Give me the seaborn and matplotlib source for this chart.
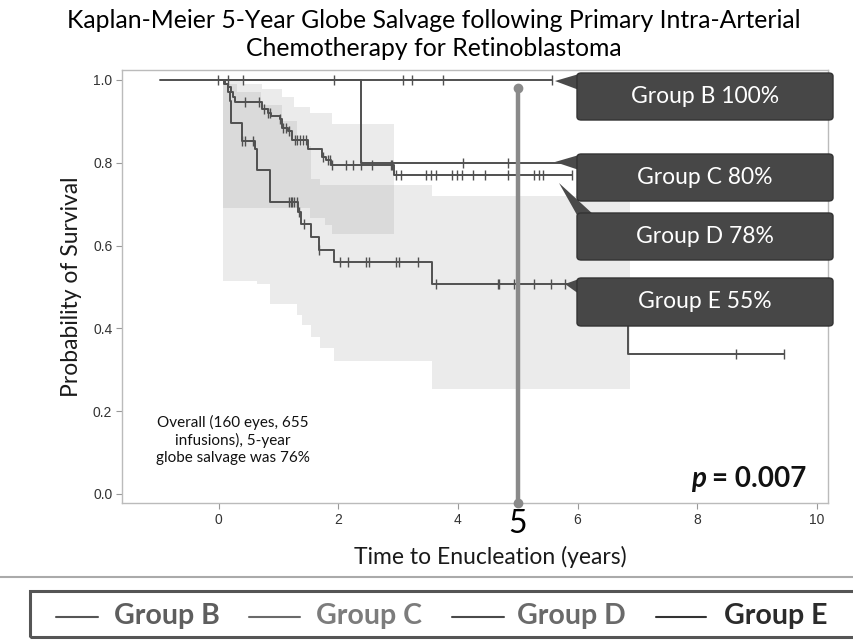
import matplotlib
matplotlib.use("Agg")
import matplotlib.pyplot as plt
import numpy as np
import pandas as pd
import seaborn as sns
from matplotlib.lines import Line2D
from matplotlib.patches import FancyBboxPatch, Polygon, Rectangle

# Kaplan-Meier curves (time in years, survival)
GROUPS = ["Group B", "Group C", "Group D", "Group E"]

B_TIME = [-0.98, 5.57]
B_SURV = [1.0, 1.0]
C_TIME = [0.0, 2.37, 5.9]
C_SURV = [1.0, 0.80, 0.80]
D_TIME = [0.0, 0.08, 0.15, 0.2, 0.23, 0.27, 0.73, 0.82, 0.88, 1.02, 1.05,
          1.15, 1.22, 1.49, 1.73, 1.8, 1.88, 2.93, 5.9]
D_SURV = [1.0, 0.99, 0.983, 0.97, 0.958, 0.946, 0.929, 0.921, 0.913, 0.905,
          0.885, 0.876, 0.856, 0.832, 0.815, 0.807, 0.795, 0.77, 0.77]
E_TIME = [0.0, 0.1, 0.15, 0.18, 0.21, 0.38, 0.6, 0.63, 0.85, 1.32, 1.38,
          1.54, 1.68, 1.93, 3.57, 6.85, 9.45]
E_SURV = [1.0, 0.99, 0.97, 0.95, 0.897, 0.852, 0.832, 0.783, 0.706, 0.681,
          0.653, 0.62, 0.59, 0.559, 0.507, 0.339, 0.339]

# censored observations (times)
B_CENS = [-0.02, 0.15, 0.4, 1.93, 3.08, 3.23, 3.75, 5.57]
C_CENS = [4.08, 4.83]
D_CENS = [0.43, 0.68, 0.75, 0.82, 0.85, 1.02, 1.07, 1.12, 1.18, 1.27, 1.31,
          1.35, 1.4, 1.46, 1.75, 1.82, 1.86, 1.9, 2.13, 2.24, 2.38, 2.57,
          2.88, 2.9, 2.96, 3.04, 3.46, 3.55, 3.64, 3.9, 3.99, 4.07, 4.25,
          4.45, 4.84, 5.27, 5.35, 5.43, 5.9]
E_CENS = [0.38, 0.43, 0.57, 1.17, 1.2, 1.23, 1.26, 1.3, 1.34, 1.42, 1.68,
          2.02, 2.16, 2.46, 2.52, 2.96, 3.02, 3.33, 3.64, 4.67, 4.69, 4.93,
          5.27, 5.56, 5.79, 8.65, 9.45]

# confidence bands (step functions)
D_BAND_T = [0.07, 0.4, 0.72, 1.05, 1.25, 1.52, 1.77, 1.9, 2.93]
D_BAND_HI = [1.0, 0.99, 0.978, 0.958, 0.934, 0.92, 0.92, 0.893, 0.893]
D_BAND_LO = [0.69, 0.69, 0.69, 0.69, 0.69, 0.666, 0.649, 0.629, 0.629]
E_BAND_T = [0.07, 0.3, 0.63, 0.7, 0.85, 1.05, 1.3, 1.39, 1.54, 1.7, 1.92,
            3.57, 6.87]
E_BAND_HI = [0.99, 0.97, 0.97, 0.94, 0.94, 0.9, 0.84, 0.84, 0.76, 0.745,
             0.745, 0.72, 0.72]
E_BAND_LO = [0.515, 0.515, 0.507, 0.507, 0.458, 0.458, 0.433, 0.409, 0.38,
             0.352, 0.321, 0.254, 0.254]

CALLOUTS = ["Group B 100%", "Group C 80%", "Group D 78%", "Group E 55%"]
LEGEND_LINE = ["#555555", "#6a6a6a", "#4a4a4a", "#333333"]
LEGEND_TEXT = ["#5e5e5e", "#7c7c7c", "#6a6a6a", "#2b2b2b"]
FIVE_YEAR = 5

W, H = 854, 640
CURVE = "#505050"


def px(x, y):
    """pixel (from top-left) -> figure fraction"""
    return x / W, 1 - y / H


curves = pd.concat([
    pd.DataFrame({"group": g, "time": t, "surv": s})
    for g, t, s in zip(GROUPS, [B_TIME, C_TIME, D_TIME, E_TIME],
                       [B_SURV, C_SURV, D_SURV, E_SURV])
], ignore_index=True)


def surv_at(times, t_curve, s_curve):
    idx = np.searchsorted(t_curve, times, side="right") - 1
    return np.asarray(s_curve)[np.clip(idx, 0, None)]


cens = pd.concat([
    pd.DataFrame({"group": g, "time": c, "surv": surv_at(c, t, s)})
    for g, c, t, s in zip(GROUPS, [B_CENS, C_CENS, D_CENS, E_CENS],
                          [B_TIME, C_TIME, D_TIME, E_TIME],
                          [B_SURV, C_SURV, D_SURV, E_SURV])
], ignore_index=True)

sns.set_theme(style="white")
plt.rcParams["font.family"] = ["Lato", "DejaVu Sans"]

fig = plt.figure(figsize=(W / 100, H / 100), dpi=100)
ax = fig.add_axes([122 / W, 1 - 503 / H, 706 / W, 433 / H])

# bands
for t, lo, hi in [(D_BAND_T, D_BAND_LO, D_BAND_HI), (E_BAND_T, E_BAND_LO, E_BAND_HI)]:
    ax.fill_between(t, lo, hi, step="post", color="#7a7a7a", alpha=0.15,
                    linewidth=0, zorder=1)

sns.lineplot(data=curves, x="time", y="surv", hue="group",
             palette={g: CURVE for g in GROUPS}, estimator=None,
             drawstyle="steps-post", linewidth=1.4, legend=False, ax=ax, zorder=3)
sns.scatterplot(data=cens, x="time", y="surv", marker="|", s=45, color=CURVE,
                linewidth=1.0, legend=False, ax=ax, zorder=4)

# 5-year marker
ax.plot([FIVE_YEAR, FIVE_YEAR], [-0.022, 0.98], color="#8a8a8a", lw=3.2,
        solid_capstyle="round", zorder=5, clip_on=False)
ax.plot([FIVE_YEAR, FIVE_YEAR], [0.98, -0.022], "o", color="#8a8a8a", ms=6,
        zorder=5, clip_on=False)
ax.text(FIVE_YEAR, -0.072, "5", ha="center", va="center", fontsize=23,
        color="black", zorder=6, clip_on=False)

ax.set_xlim(-1.62, 10.19)
ax.set_ylim(-0.022, 1.024)
ax.set_xticks([0, 2, 4, 6, 8, 10])
ax.set_yticks([0.0, 0.2, 0.4, 0.6, 0.8, 1.0])
ax.set_yticklabels(["0.0", "0.2", "0.4", "0.6", "0.8", "1.0"])
ax.tick_params(axis="both", labelsize=10, labelcolor="#333333", color="#999999",
               length=4, width=0.8, direction="out", bottom=True, left=True, pad=3)
for lab in ax.get_xticklabels() + ax.get_yticklabels():
    lab.set_family(["Liberation Sans", "DejaVu Sans"])
for sp in ax.spines.values():
    sp.set_color("#bbbbbb")
    sp.set_linewidth(1.0)
ax.set_xlabel("Time to Enucleation (years)", fontsize=16.5, color="#1a1a1a")
ax.xaxis.set_label_coords(0.521, -0.1)
ax.set_ylabel("Probability of Survival", fontsize=16.5, color="#1a1a1a")
ax.yaxis.set_label_coords(-0.056, 0.5)

ax.text(0.157, 0.1455, "Overall (160 eyes, 655\ninfusions), 5-year\nglobe salvage was 76%",
        transform=ax.transAxes, ha="center", va="center", fontsize=11,
        color="#111111", linespacing=1.25)
ptxt = ax.text(0.969, 0.055, "= 0.007", transform=ax.transAxes, ha="right",
               va="center", fontsize=20, fontweight="bold", color="#111111")
ax.annotate("p ", xy=(0, 0.5), xycoords=ptxt, ha="right", va="center",
            fontsize=20, fontweight="bold", fontstyle="italic", color="#111111")

# callout boxes
boxes = [(73, 120), (154, 201), (213, 260), (278, 326)]
tips = [(555, 81), (555, 162), (559, 183), (565, 284)]
bases = [[(579, 74), (579, 90)], [(579, 155), (579, 170)],
         [(577, 215), (594, 215)], [(579, 279), (579, 294)]]
for label, (top, bot), tip, base in zip(CALLOUTS, boxes, tips, bases):
    x0, y0 = px(577, bot)
    x1, y1 = px(833, top)
    fig.add_artist(Polygon([px(*tip), px(*base[0]), px(*base[1])],
                           closed=True, transform=fig.transFigure,
                           facecolor="#4a4a4a", edgecolor="none", zorder=8))
    fig.add_artist(FancyBboxPatch((x0, y0), x1 - x0, y1 - y0,
                                  boxstyle="round,pad=0,rounding_size=0.005",
                                  transform=fig.transFigure, facecolor="#474747",
                                  edgecolor="#333333", linewidth=1, zorder=9))
    fig.text((x0 + x1) / 2, (y0 + y1) / 2, label, ha="center", va="center",
             fontsize=16.5, color="white", zorder=10)

fig.text(0.508, 1 - 21 / H, "Kaplan-Meier 5-Year Globe Salvage following Primary Intra-Arterial",
         ha="center", va="center", fontsize=17.8, color="black")
fig.text(0.508, 1 - 49 / H, "Chemotherapy for Retinoblastoma",
         ha="center", va="center", fontsize=17.8, color="black")

# separator line and legend strip
fig.add_artist(Line2D([0, 1], [1 - 577 / H] * 2, transform=fig.transFigure,
                      color="#aaaaaa", lw=1.5))
fig.add_artist(Rectangle(px(30, 637), 1.0, 46 / H, transform=fig.transFigure,
                         facecolor="none", edgecolor="#555555", lw=2.2))
line_x = [(56, 98), (249, 300), (452, 504), (656, 706)]
text_x = [114, 316, 517, 724]
for g, (lx0, lx1), tx, lc, tc in zip(GROUPS, line_x, text_x, LEGEND_LINE, LEGEND_TEXT):
    fig.add_artist(Line2D([lx0 / W, lx1 / W], [1 - 617 / H] * 2,
                          transform=fig.transFigure, color=lc, lw=1.5))
    fig.text(tx / W, 1 - 616 / H, g, ha="left", va="center", fontsize=20.5,
             fontweight="bold", color=tc)

fig.savefig("out.png", dpi=100)
